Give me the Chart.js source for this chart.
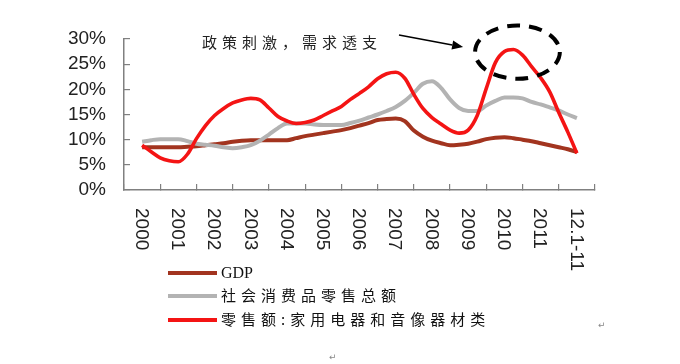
<!DOCTYPE html>
<html><head><meta charset="utf-8">
<script src="https://cdn.jsdelivr.net/npm/chart.js@4/dist/chart.umd.min.js"></script>
<style>
html,body{margin:0;padding:0;background:#fff;}
#wrap{position:relative;width:680px;height:364px;overflow:hidden;}
#c{position:absolute;left:0;top:0;}
.note{position:absolute;left:202px;top:32px;font-size:15px;font-family:"Noto Sans CJK SC";letter-spacing:5px;color:#222;white-space:nowrap;line-height:20px;}
.leg{position:absolute;left:168px;height:20px;line-height:20px;white-space:nowrap;font-size:15px;font-family:"Noto Sans CJK SC";letter-spacing:5px;color:#111;}
.leg i{display:inline-block;width:49px;height:4px;vertical-align:middle;margin-right:4px;position:relative;top:-1px;}
.leg .en{font-family:"Liberation Serif";letter-spacing:0;font-size:16px;}
.pm{position:absolute;font-size:9px;font-family:"DejaVu Sans";color:#888;line-height:10px;}
</style>
</head><body>
<div id="wrap">
<canvas id="c" width="680" height="364"></canvas>
<div class="note">政策刺激，需求透支</div>
<div id="legend"></div>
<div class="pm" style="left:598px;top:320px;">↵</div>
<div class="pm" style="left:329px;top:352px;">↵</div>
</div>
<script>
// Category (year) labels on the x axis
const categories = ['2000','2001','2002','2003','2004','2005','2006','2007','2008','2009','2010','2011','12.1-11'];
// Quarterly time index (0 = 2000, 12 = 12.1-11)
const periods = Array.from({length: 49}, (_, i) => i / 4);
// Series values (%) at each quarterly position
const gdp = [8.5,8.5,8.5,8.5,8.5,8.6,8.7,8.9,9.1,9.3,9.6,9.8,9.9,9.9,9.9,9.9,9.9,10.3,10.7,11.0,11.3,11.6,11.9,12.3,12.8,13.3,13.9,14.1,14.2,13.7,11.8,10.6,9.8,9.3,8.9,9.0,9.2,9.6,10.1,10.4,10.5,10.3,10.0,9.7,9.3,8.9,8.5,8.1,7.5];
const retailTotal = [9.6,9.9,10.1,10.1,10.1,9.7,9.2,9.0,8.8,8.5,8.3,8.5,8.9,9.8,11.0,12.3,13.2,13.2,13.2,13.0,12.9,12.9,12.9,13.3,13.8,14.4,15.0,15.7,16.5,17.7,19.3,21.1,21.6,20.3,18.0,16.3,15.7,15.7,16.8,17.7,18.4,18.4,18.2,17.5,17.0,16.4,15.8,15.0,14.3];
const appliance = [8.9,7.6,6.4,5.8,5.6,7.1,10.2,12.8,14.8,16.2,17.3,17.9,18.2,17.9,16.3,14.6,13.7,13.2,13.4,13.9,14.8,15.7,16.6,18.0,19.2,20.5,22.1,23.1,23.4,22.2,19.0,16.2,14.4,13.1,11.9,11.3,11.9,14.8,20.2,25.3,27.5,27.9,26.8,24.5,22.3,19.5,15.4,11.5,7.3];
const yTicks = [0,5,10,15,20,25,30];
const seriesNames = ['GDP','社会消费品零售总额','零售额:家用电器和音像器材类'];
const seriesColors = ['#A2341F','#B3B3B3','#F41414'];
// Annotation anchors in data units
const ellipseAt = {x: 10.36, y: 27.4, rx: 1.17, ry: 5.3};
const arrowFrom = {x: 7.09, y: 30.8};
const arrowTo = {x: 8.86, y: 28.4};

const toXY = arr => arr.map((v, i) => ({x: periods[i], y: v}));
const seriesData = [gdp, retailTotal, appliance];

const overlay = {
  id: 'overlay',
  afterDraw(chart) {
    const {ctx, scales: {x, y}} = chart;
    ctx.save();
    ctx.font = '19px "Liberation Sans"';
    ctx.fillStyle = '#222';
    ctx.textAlign = 'left';
    ctx.textBaseline = 'middle';
    categories.forEach((c, i) => {
      const px = x.getPixelForValue(i);
      ctx.save();
      ctx.translate(px - 1, y.bottom + 18);
      ctx.rotate(Math.PI / 2);
      ctx.fillText(c, 0, 0);
      ctx.restore();
    });
    // dashed ellipse
    const cx = x.getPixelForValue(ellipseAt.x), cy = y.getPixelForValue(ellipseAt.y);
    const rx = x.getPixelForValue(ellipseAt.x + ellipseAt.rx) - cx;
    const ry = cy - y.getPixelForValue(ellipseAt.y + ellipseAt.ry);
    ctx.beginPath();
    ctx.setLineDash([13, 9]);
    ctx.lineWidth = 4;
    ctx.strokeStyle = '#000';
    ctx.ellipse(cx, cy, rx, ry, 0, 0, Math.PI * 2);
    ctx.stroke();
    ctx.setLineDash([]);
    // arrow
    const ax1 = x.getPixelForValue(arrowFrom.x), ay1 = y.getPixelForValue(arrowFrom.y);
    const ax2 = x.getPixelForValue(arrowTo.x), ay2 = y.getPixelForValue(arrowTo.y);
    const ang = Math.atan2(ay2 - ay1, ax2 - ax1);
    const hl = 11, hw = 4.5;
    const bx = ax2 - hl * Math.cos(ang), by = ay2 - hl * Math.sin(ang);
    ctx.beginPath();
    ctx.lineWidth = 1.6;
    ctx.moveTo(ax1, ay1);
    ctx.lineTo(bx, by);
    ctx.stroke();
    ctx.beginPath();
    ctx.fillStyle = '#000';
    ctx.moveTo(ax2, ay2);
    ctx.lineTo(bx + hw * Math.sin(ang), by - hw * Math.cos(ang));
    ctx.lineTo(bx - hw * Math.sin(ang), by + hw * Math.cos(ang));
    ctx.closePath();
    ctx.fill();
    ctx.restore();
  }
};

new Chart(document.getElementById('c'), {
  type: 'line',
  data: {
    datasets: seriesNames.map((n, i) => ({
      label: n,
      data: toXY(seriesData[i]),
      borderColor: seriesColors[i],
      backgroundColor: seriesColors[i],
      borderWidth: i === 2 ? 3.6 : 4,
      pointRadius: 0,
      cubicInterpolationMode: 'monotone',
      order: 2 - i,
      clip: false
    }))
  },
  options: {
    responsive: false,
    animation: false,
    events: [],
    layout: {padding: {left: 0, right: 85, top: 39, bottom: 0}},
    plugins: {legend: {display: false}, tooltip: {enabled: false}},
    scales: {
      x: {
        type: 'linear',
        min: -0.5, max: 12.5,
        afterBuildTicks: s => { s.ticks = categories.map((c, i) => ({value: i})); },
        afterFit: s => { s.height = 174; },
        grid: {offset: true, drawOnChartArea: false, drawTicks: true, tickLength: -6, color: '#808080', lineWidth: 1.2},
        border: {display: true, color: '#808080', width: 1.5},
        ticks: {display: false, autoSkip: false}
      },
      y: {
        min: 0, max: 30,
        afterBuildTicks: s => { s.ticks = yTicks.map(v => ({value: v})); },
        afterFit: s => { s.width = 124; },
        grid: {drawOnChartArea: false, drawTicks: true, tickLength: -6, color: '#808080', lineWidth: 1.2},
        border: {display: true, color: '#808080', width: 1.5},
        ticks: {autoSkip: false, padding: 24, color: '#222', font: {family: 'Liberation Sans', size: 19}, callback: v => v + '%'}
      }
    }
  },
  plugins: [overlay]
});

// HTML legend (vertical list)
const legendTops = [262, 285, 309];
const lg = document.getElementById('legend');
seriesNames.forEach((n, i) => {
  const d = document.createElement('div');
  d.className = 'leg';
  d.style.top = legendTops[i] + 'px';
  const sw = document.createElement('i');
  sw.style.background = seriesColors[i];
  d.appendChild(sw);
  const t = document.createElement('span');
  if (i === 0) t.className = 'en';
  t.textContent = n;
  d.appendChild(t);
  lg.appendChild(d);
});
</script>
</body></html>
